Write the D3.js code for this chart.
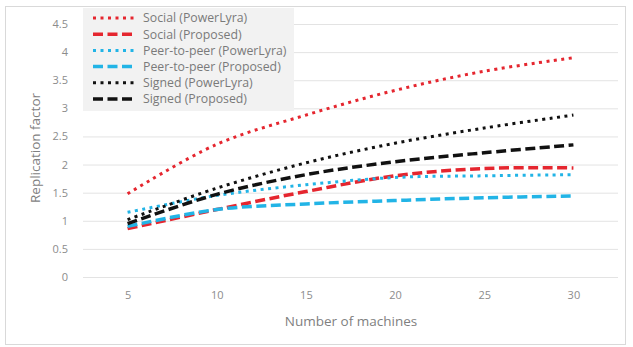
<!DOCTYPE html>
<html>
<head>
<meta charset="utf-8">
<script src="https://cdn.jsdelivr.net/npm/d3@7"></script>
<style>
  html, body { margin: 0; padding: 0; background: #fff; }
  svg { display: block; font-family: "Open Sans", Lato, sans-serif; }
</style>
</head>
<body>
<svg id="chart" width="633" height="347"></svg>
<script>
// Number of machines (category axis)
const machines = [5, 10, 15, 20, 25, 30];

// Replication factor per graph type and partitioner
const socialPowerLyra   = [1.48, 2.36, 2.88, 3.32, 3.66, 3.90];
const socialProposed    = [0.86, 1.20, 1.52, 1.80, 1.93, 1.94];
const p2pPowerLyra      = [1.15, 1.45, 1.64, 1.77, 1.80, 1.82];
const p2pProposed       = [0.90, 1.20, 1.30, 1.36, 1.41, 1.44];
const signedPowerLyra   = [1.02, 1.58, 2.03, 2.38, 2.65, 2.88];
const signedProposed    = [0.95, 1.47, 1.82, 2.05, 2.21, 2.35];

const yTicks = [0, 0.5, 1, 1.5, 2, 2.5, 3, 3.5, 4, 4.5];

const series = [
  { name: "Social (PowerLyra)",       values: socialPowerLyra, color: "#e5262f", style: "dot" },
  { name: "Social (Proposed)",        values: socialProposed,  color: "#e5262f", style: "dash" },
  { name: "Peer-to-peer (PowerLyra)", values: p2pPowerLyra,    color: "#22b4e6", style: "dot" },
  { name: "Peer-to-peer (Proposed)",  values: p2pProposed,     color: "#22b4e6", style: "dash" },
  { name: "Signed (PowerLyra)",       values: signedPowerLyra, color: "#111111", style: "dot" },
  { name: "Signed (Proposed)",        values: signedProposed,  color: "#111111", style: "dash" }
];

const lineStyles = {
  dot:  { width: 3,   dash: "3,4.5" },
  dash: { width: 3.5, dash: "10,4.5" }
};

const svg = d3.select("#chart");

// chart frame
svg.append("rect")
  .attr("x", 5.5).attr("y", 6.5).attr("width", 620).attr("height", 338)
  .attr("fill", "#fff").attr("stroke", "#d9d9d9");

const plot = { left: 83, right: 618, top: 24, bottom: 277 };

const x = d3.scalePoint()
  .domain(machines)
  .range([plot.left, plot.right])
  .padding(0.5);

const y = d3.scaleLinear()
  .domain([0, 4.5])
  .range([plot.bottom, plot.top]);

// horizontal gridlines
svg.append("g")
  .selectAll("line")
  .data(yTicks)
  .join("line")
  .attr("x1", plot.left).attr("x2", plot.right)
  .attr("y1", d => y(d) + 0.5).attr("y2", d => y(d) + 0.5)
  .attr("stroke", "#e3e3e3").attr("stroke-width", 1);

// y axis labels
const yAxis = svg.append("g")
  .attr("transform", `translate(${plot.left - 15},0)`)
  .call(d3.axisLeft(y).tickValues(yTicks).tickSize(0).tickFormat(d3.format("")));
yAxis.select(".domain").remove();
yAxis.selectAll("text")
  .attr("fill", "#8c8c8c").attr("font-size", 11).attr("x", 0)
  .style("font-family", "'Open Sans', sans-serif");

// x axis labels
const xAxis = svg.append("g")
  .attr("transform", `translate(0,${plot.bottom + 11})`)
  .call(d3.axisBottom(x).tickSize(0));
xAxis.select(".domain").remove();
xAxis.selectAll("text")
  .attr("fill", "#8c8c8c").attr("font-size", 11)
  .style("font-family", "'Open Sans', sans-serif");

// axis titles
svg.append("text")
  .attr("x", 351).attr("y", 326)
  .attr("text-anchor", "middle")
  .attr("fill", "#7f7f7f").attr("font-size", 13.5)
  .text("Number of machines");

svg.append("text")
  .attr("transform", `translate(40,148) rotate(-90)`)
  .attr("text-anchor", "middle")
  .attr("fill", "#7f7f7f").attr("font-size", 13.5)
  .text("Replication factor");

// smoothed series lines
const line = d3.line()
  .x((d, i) => x(machines[i]))
  .y(d => y(d))
  .curve(d3.curveCatmullRom.alpha(0.5));

svg.append("g")
  .selectAll("path")
  .data(series)
  .join("path")
  .attr("d", d => line(d.values))
  .attr("fill", "none")
  .attr("stroke", d => d.color)
  .attr("stroke-width", d => lineStyles[d.style].width)
  .attr("stroke-dasharray", d => lineStyles[d.style].dash);

// legend
const legend = svg.append("g");
legend.append("rect")
  .attr("x", 83).attr("y", 8).attr("width", 211).attr("height", 103)
  .attr("fill", "#f2f2f2");

const rowH = 16.2;
const items = legend.selectAll("g.item")
  .data(series)
  .join("g")
  .attr("class", "item")
  .attr("transform", (d, i) => `translate(0,${18 + i * rowH})`);

items.append("line")
  .attr("x1", 93).attr("x2", 136)
  .attr("y1", 0).attr("y2", 0)
  .attr("stroke", d => d.color)
  .attr("stroke-width", d => lineStyles[d.style].width)
  .attr("stroke-dasharray", d => lineStyles[d.style].dash);

items.append("text")
  .attr("x", 143).attr("y", 0).attr("dy", "0.35em")
  .attr("fill", "#7a7a7a").attr("font-size", 12.3)
  .text(d => d.name);
</script>
</body>
</html>
